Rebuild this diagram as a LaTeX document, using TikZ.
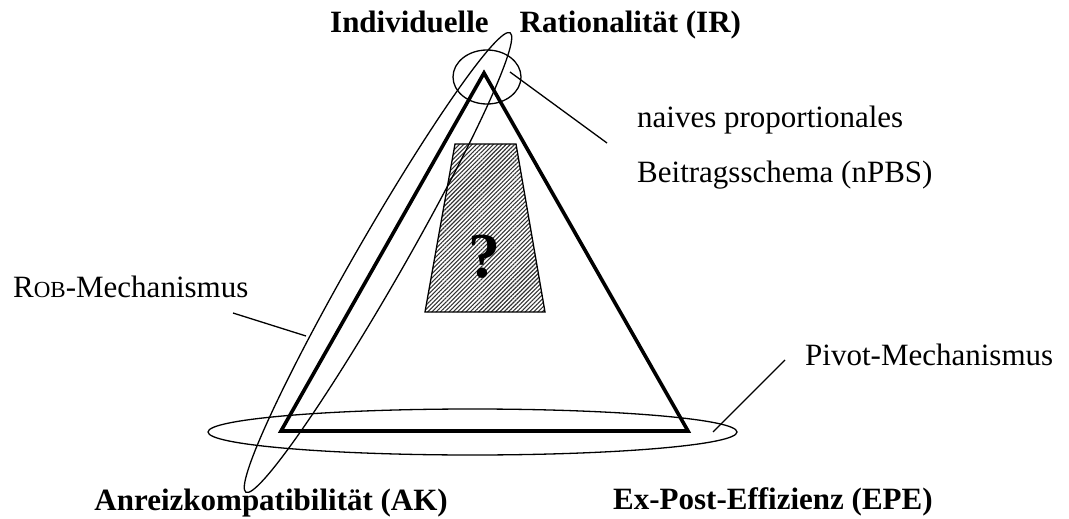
\documentclass[tikz,border=0pt]{standalone}
\usepackage{fontspec}
\setmainfont{Liberation Serif}
\usetikzlibrary{shapes.geometric,patterns.meta}
\begin{document}
\begin{tikzpicture}[x=1pt,y=-1pt,
  thinline/.style={line width=1.3pt},
  thickline/.style={line width=3.6pt, line join=miter},
  ring/.style={draw, ellipse, thinline, inner sep=0pt},
  boldlbl/.style={inner sep=0pt, font=\bfseries\fontsize{31}{36}\selectfont},
  plainlbl/.style={inner sep=0pt, font=\fontsize{31}{36}\selectfont},
  hatch/.style={thinline, pattern={Lines[angle=45, distance=3pt, line width=1.1pt]}, pattern color=black!80}
]
\useasboundingbox (0,0) rectangle (1069,519);

% triangle
\coordinate (T) at (484,73);
\coordinate (L) at (281,431);
\coordinate (R) at (688,431);
\draw[thickline] (T) -- (L) -- (R) -- cycle;

% hatched trapezoid
\coordinate (q1) at (455,144);
\coordinate (q2) at (516,144);
\coordinate (q3) at (545,312);
\coordinate (q4) at (425,312);
\draw[hatch] (q1) -- (q2) -- (q3) -- (q4) -- cycle;
\node[inner sep=0pt, font=\bfseries\fontsize{64}{64}\selectfont] (qm) at (484.5,257) {?};

% ellipses
\node[ring, minimum width=68pt, minimum height=54pt] (irc) at (487,77) {};
\node[ring, minimum width=530pt, minimum height=48pt, rotate=60.1] (robe) at (378,262.5) {};
\node[ring, minimum width=529pt, minimum height=46pt] (pive) at (472.5,432) {};

% labels
\node[boldlbl, anchor=base west] (irt) at (330,33) {Individuelle\hspace{31pt}Rationalität (IR)};
\node[boldlbl, anchor=base east] (akt) at (448,510) {Anreizkompatibilität (AK)};
\node[boldlbl, anchor=base west] (epet) at (613,509) {Ex-Post-Effizienz (EPE)};
\node[plainlbl, anchor=base west] (npbs1) at (637,127) {naives proportionales};
\node[plainlbl, anchor=base west] (npbs2) at (637,182) {Beitragsschema (nPBS)};
\node[plainlbl, anchor=base west] (robt) at (13,297) {R{\fontsize{23}{26}\selectfont OB}-Mechanismus};
\node[plainlbl, anchor=base west] (pivt) at (805,365) {Pivot-Mechanismus};

% connectors
\coordinate (c1a) at (510,72);
\coordinate (c1b) at (607,143);
\draw[thinline] (c1a) -- (c1b);
\coordinate (c2a) at (233,313);
\coordinate (c2b) at (306,336);
\draw[thinline] (c2a) -- (c2b);
\coordinate (c3a) at (713,432);
\coordinate (c3b) at (785,360);
\draw[thinline] (c3a) -- (c3b);
\end{tikzpicture}
\end{document}
